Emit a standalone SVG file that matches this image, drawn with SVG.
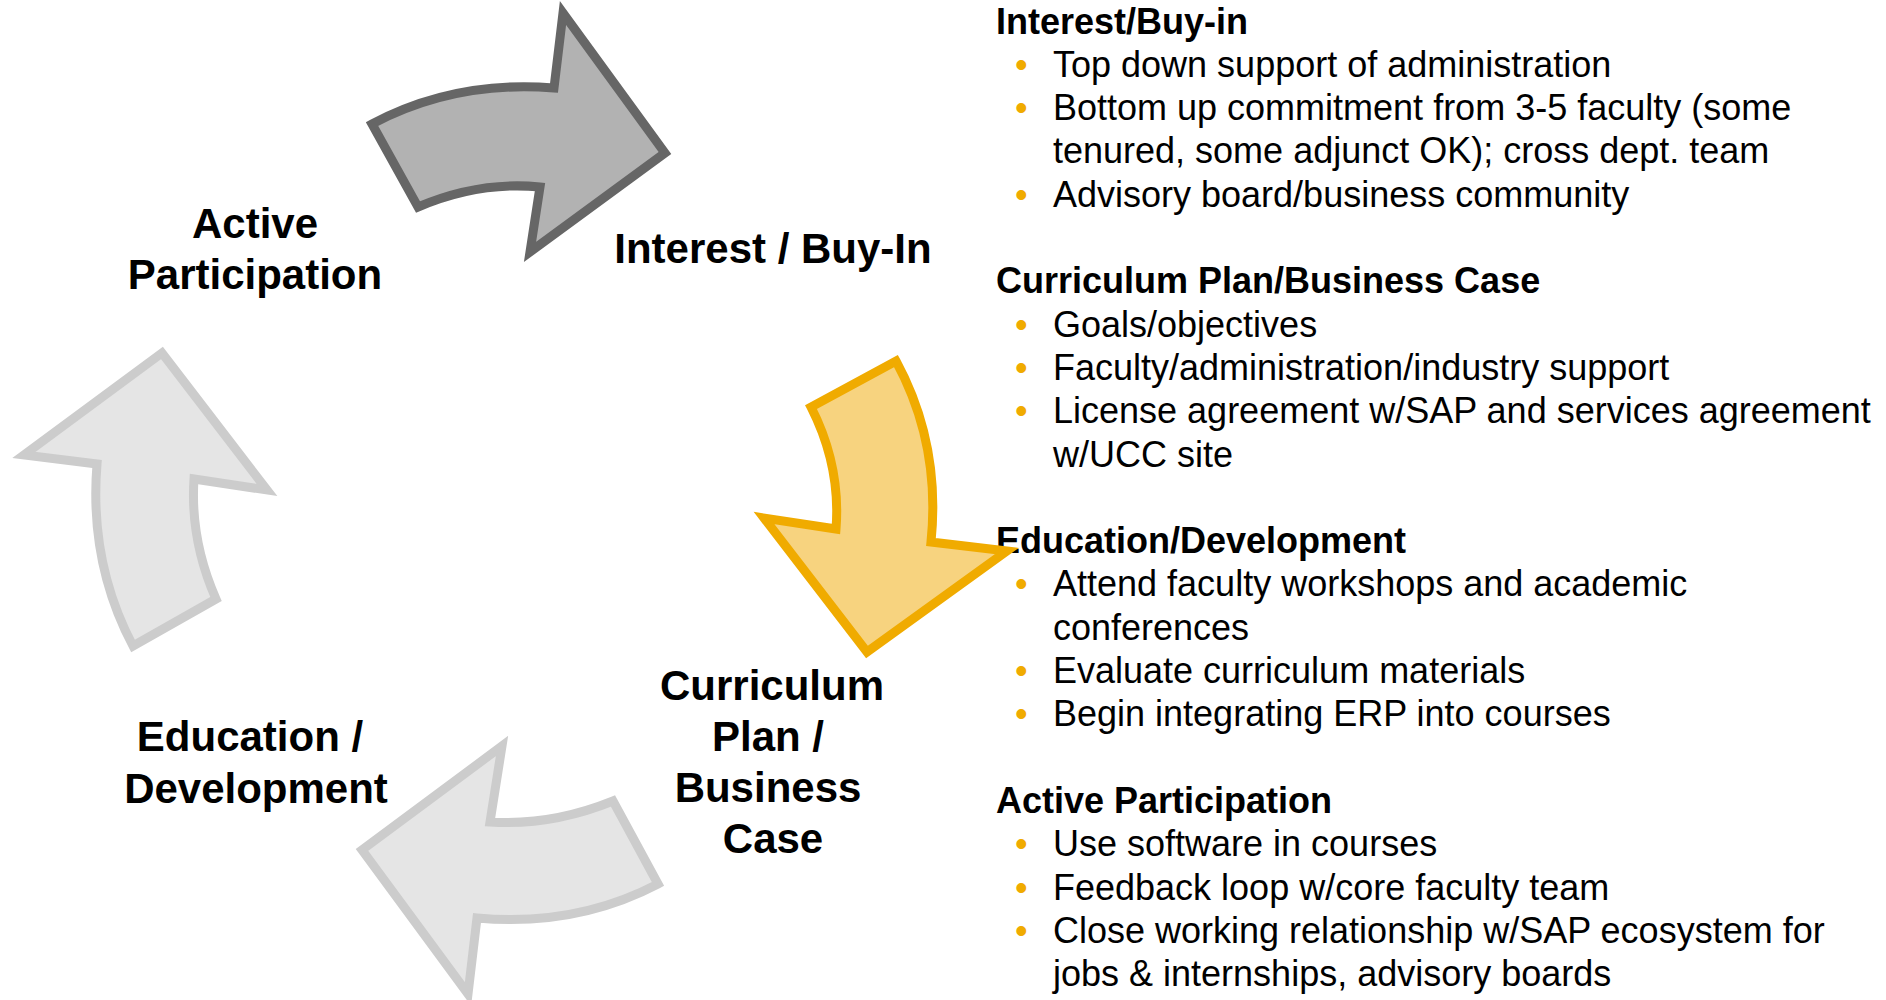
<svg xmlns="http://www.w3.org/2000/svg" width="1886" height="1000" viewBox="0 0 1886 1000">
<style>
.lbl{font-family:"Liberation Sans",Arial,sans-serif;font-weight:bold;font-size:42px;fill:#000;text-anchor:middle}
.hd{font-family:"Liberation Sans",Arial,sans-serif;font-weight:bold;font-size:36px;fill:#000}
.tx{font-family:"Liberation Sans",Arial,sans-serif;font-size:36px;fill:#000}
.bl{font-family:"Liberation Sans",Arial,sans-serif;font-size:36px;fill:#F0AB00}
.arr{stroke-width:9;stroke-linejoin:miter}
.dark{fill:#B2B2B2;stroke:#666666}
.gold{fill:#F7D37F;stroke:#F0AB00}
.light{fill:#E5E5E5;stroke:#CCCCCC}
</style>
<rect width="1886" height="1000" fill="#FFFFFF"/>
<g id="details">
<text class="hd" x="996" y="33.5">Interest/Buy-in</text>
<text class="bl" x="1015" y="76.8">•</text><text class="tx" x="1053" y="76.8">Top down support of administration</text>
<text class="bl" x="1015" y="120.1">•</text><text class="tx" x="1053" y="120.1">Bottom up commitment from 3-5 faculty (some</text>
<text class="tx" x="1053" y="163.4">tenured, some adjunct OK); cross dept. team</text>
<text class="bl" x="1015" y="206.7">•</text><text class="tx" x="1053" y="206.7">Advisory board/business community</text>
<text class="hd" x="996" y="293.3">Curriculum Plan/Business Case</text>
<text class="bl" x="1015" y="336.6">•</text><text class="tx" x="1053" y="336.6">Goals/objectives</text>
<text class="bl" x="1015" y="379.9">•</text><text class="tx" x="1053" y="379.9">Faculty/administration/industry support</text>
<text class="bl" x="1015" y="423.2">•</text><text class="tx" x="1053" y="423.2">License agreement w/SAP and services agreement</text>
<text class="tx" x="1053" y="466.5">w/UCC site</text>
<text class="hd" x="996" y="553.1">Education/Development</text>
<text class="bl" x="1015" y="596.4">•</text><text class="tx" x="1053" y="596.4">Attend faculty workshops and academic</text>
<text class="tx" x="1053" y="639.7">conferences</text>
<text class="bl" x="1015" y="683">•</text><text class="tx" x="1053" y="683">Evaluate curriculum materials</text>
<text class="bl" x="1015" y="726.3">•</text><text class="tx" x="1053" y="726.3">Begin integrating ERP into courses</text>
<text class="hd" x="996" y="812.9">Active Participation</text>
<text class="bl" x="1015" y="856.2">•</text><text class="tx" x="1053" y="856.2">Use software in courses</text>
<text class="bl" x="1015" y="899.5">•</text><text class="tx" x="1053" y="899.5">Feedback loop w/core faculty team</text>
<text class="bl" x="1015" y="942.8">•</text><text class="tx" x="1053" y="942.8">Close working relationship w/SAP ecosystem for</text>
<text class="tx" x="1053" y="986.1">jobs &amp; internships, advisory boards</text>
</g>
<g id="connectors">
<path class="arr dark" d="M372,124 Q455,80 554,88 L563,13 L665,153 L530,252 L540,187 Q479,181 418,207 Z"/>
<path class="arr gold" d="M896,361 Q941,444 931,542 L1007,551 L867,652 L764,518 L836,529 Q841,466 811,407 Z"/>
<path class="arr light" d="M658,884 Q576,927 477,918 L468,994 L362,850 L502,746 L490,822 Q551,826 613,801 Z"/>
<path class="arr light" d="M133,646 Q89,563 97,464 L24,455 L162,353 L267,490 L194,479 Q190,540 216,599 Z"/>
</g>
<g id="node-interest">
<text class="lbl" x="773" y="263">Interest / Buy-In</text>
</g>
<g id="node-curriculum">
<text class="lbl" x="772" y="700">Curriculum</text>
<text class="lbl" x="768" y="751">Plan /</text>
<text class="lbl" x="768" y="802">Business</text>
<text class="lbl" x="773" y="853">Case</text>
</g>
<g id="node-education">
<text class="lbl" x="250" y="751">Education /</text>
<text class="lbl" x="256" y="803">Development</text>
</g>
<g id="node-active">
<text class="lbl" x="255" y="238">Active</text>
<text class="lbl" x="255" y="289">Participation</text>
</g>
</svg>
